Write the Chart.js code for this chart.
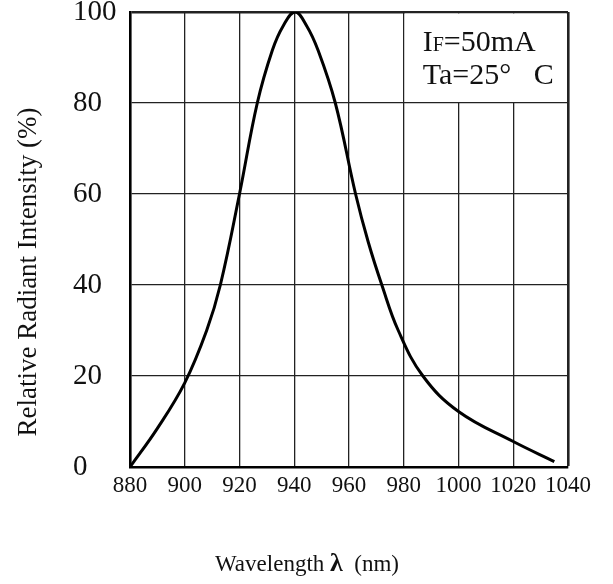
<!DOCTYPE html>
<html>
<head>
<meta charset="utf-8">
<script src="https://cdn.jsdelivr.net/npm/chart.js@4"></script>
<style>
  html, body { margin: 0; padding: 0; background: #fff; }
  #wrap { width: 613px; height: 584px; }
</style>
</head>
<body>
<div id="wrap"><canvas id="spectrumChart"></canvas></div>
<script>
// spectral curve
const wavelengths = [880, 890, 900, 908, 913, 920, 926.5, 932, 936, 940.3, 944.5, 948.7, 955, 962.4, 967, 972, 978, 987, 1000, 1020, 1035];
const intensity   = [0,   8.5, 18.5, 30, 40,  60,  80,    91.6, 97, 100,   97,    91.6,  80,  60,    49.5, 40, 30,  20, 12.2, 5.6,  1.2];

const xTicks = [880, 900, 920, 940, 960, 980, 1000, 1020, 1040];
const yTicks = [0, 20, 40, 60, 80, 100];
const conditions = ['I', 'F', '=50mA', 'Ta=25°   C'];

const SERIF = '"Liberation Serif", "DejaVu Serif", serif';

// axis titles + the measurement-condition box
const textPlugin = {
    id: 'datasheetText',
    beforeDatasetsDraw(chart) {
        const c = chart.ctx;
        const xs = chart.scales.x, ys = chart.scales.y;
        // white box hiding the grid behind the conditions
        const bx0 = xs.getPixelForValue(980) + 1;
        const bx1 = xs.getPixelForValue(1040) - 1.5;
        const by0 = ys.getPixelForValue(100) + 1.5;
        const by1 = ys.getPixelForValue(80) - 1;
        c.save();
        c.fillStyle = '#fff';
        c.fillRect(bx0, by0, bx1 - bx0, by1 - by0);

        c.fillStyle = '#111';
        c.textBaseline = 'alphabetic';
        c.textAlign = 'left';
        let tx = bx0 + 18;
        c.font = '30px ' + SERIF;
        c.fillText(conditions[0], tx, by0 + 37);
        tx += c.measureText(conditions[0]).width;
        c.font = '20px ' + SERIF;
        c.fillText(conditions[1], tx, by0 + 37);
        tx += c.measureText(conditions[1]).width;
        c.font = '30px ' + SERIF;
        c.fillText(conditions[2], tx, by0 + 37);
        c.fillText(conditions[3], bx0 + 18, by0 + 70);
        c.restore();
    },
    afterDraw(chart) {
        const c = chart.ctx;
        c.save();
        c.fillStyle = '#111';
        // y title
        c.font = '27px ' + SERIF;
        c.translate(29, 272);
        c.rotate(-Math.PI / 2);
        c.textAlign = 'center';
        c.textBaseline = 'middle';
        c.fillText('Relative Radiant Intensity (%)', 0, 0);
        c.restore();

        // x title with bold lambda
        c.save();
        c.fillStyle = '#111';
        c.textBaseline = 'alphabetic';
        const a = 'Wavelength ', l = 'λ', b = '  (nm)';
        c.font = '23px ' + SERIF;
        const wa = c.measureText(a).width, wb = c.measureText(b).width;
        c.font = 'bold 26px ' + SERIF;
        const wl = c.measureText(l).width;
        let x = 307 - (wa + wl + wb) / 2;
        c.font = '23px ' + SERIF;
        c.fillText(a, x, 571);
        c.font = 'bold 26px ' + SERIF;
        c.fillText(l, x + wa, 571);
        c.font = '23px ' + SERIF;
        c.fillText(b, x + wa + wl, 571);
        c.restore();
    }
};

const points = wavelengths.map((w, i) => ({ x: w, y: intensity[i] }));

new Chart(document.getElementById('spectrumChart'), {
    type: 'scatter',
    data: {
        datasets: [{
            data: points,
            showLine: true,
            borderColor: '#000',
            borderWidth: 3,
            pointRadius: 0,
            tension: 0.4,
            fill: false,
        }]
    },
    options: {
        responsive: true,
        maintainAspectRatio: false,
        animation: false,
        layout: { padding: { top: 12, right: 45, left: 73, bottom: 0 } },
        plugins: {
            legend: { display: false },
            tooltip: { enabled: false },
        },
        scales: {
            x: {
                type: 'linear',
                min: 880,
                max: 1040,
                afterBuildTicks: (s) => { s.ticks = xTicks.map(v => ({ value: v })); },
                afterFit: (s) => { s.height = 117; s.paddingLeft = 0; s.paddingRight = 0; },
                grid: {
                    drawTicks: false,
                    color: '#222',
                    lineWidth: (ctx) => (ctx.tick && ctx.tick.value === 1040 ? 2.6 : 1.3),
                },
                border: { color: '#000', width: 2.6 },
                ticks: {
                    padding: 5,
                    color: '#111',
                    font: { family: SERIF, size: 23 },
                    maxRotation: 0,
                    autoSkip: false,
                    callback: (v) => String(v),
                },
            },
            y: {
                type: 'linear',
                min: 0,
                max: 100,
                afterBuildTicks: (s) => { s.ticks = yTicks.map(v => ({ value: v })); },
                afterFit: (s) => { s.width = 57; s.paddingTop = 0; s.paddingBottom = 0; },
                grid: {
                    drawTicks: false,
                    color: '#222',
                    lineWidth: (ctx) => (ctx.tick && ctx.tick.value === 100 ? 2.6 : 1.3),
                },
                border: { color: '#000', width: 2.6 },
                ticks: {
                    crossAlign: 'far',
                    color: '#111',
                    font: { family: SERIF, size: 29 },
                    autoSkip: false,
                    callback: (v) => String(v),
                },
            }
        }
    },
    plugins: [textPlugin]
});
</script>
</body>
</html>
